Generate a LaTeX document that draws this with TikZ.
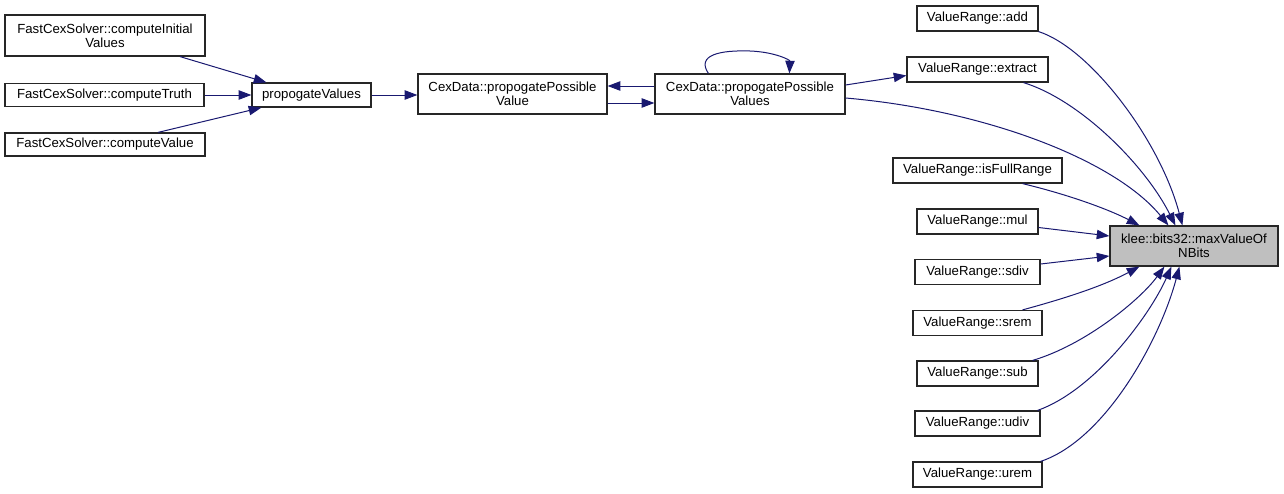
\documentclass[tikz,border=0pt]{standalone}
\usepackage{fontspec}
\setmainfont{Liberation Sans}
\usetikzlibrary{arrows.meta,calc}
\definecolor{edgecol}{HTML}{191970}
\definecolor{hlfill}{HTML}{BFBFBF}
\tikzset{
  fn/.style={draw=black!85, line width=0.9pt, fill=white, inner sep=0pt, align=center,
    font=\fontsize{9.9}{10.5}\selectfont},
  hl/.style={fn, fill=hlfill},
  edge/.style={draw=edgecol, line width=0.75pt, -{Triangle[length=9.5pt,width=7pt]}}
}
\begin{document}
\begin{tikzpicture}[x=0.75pt,y=-0.75pt]
\useasboundingbox (0,0) rectangle (1284,493);
% left nodes
\node[fn, minimum width=150pt, minimum height=30.75pt] (ci) at (105,35.5) {FastCexSolver::computeInitial\\Values};
\node[fn, minimum width=149.25pt, minimum height=17.25pt] (ct) at (104.5,95) {FastCexSolver::computeTruth};
\node[fn, minimum width=150pt, minimum height=17.25pt] (cv) at (105,144.5) {FastCexSolver::computeValue};
\node[fn, minimum width=89.25pt, minimum height=18pt] (pv) at (311.5,95) {propogateValues};
\node[fn, minimum width=141.75pt, minimum height=30pt] (cpv) at (512.5,94) {CexData::propogatePossible\\Value};
\node[fn, minimum width=142.5pt, minimum height=30pt] (cpvs) at (750,94) {CexData::propogatePossible\\Values};
% right column
\node[fn, minimum width=90.75pt, minimum height=18.75pt] (add) at (977.5,18.5) {ValueRange::add};
\node[fn, minimum width=105.75pt, minimum height=18.75pt] (ext) at (977.5,69.5) {ValueRange::extract};
\node[fn, minimum width=126.75pt, minimum height=18.75pt] (full) at (977.5,170.5) {ValueRange::isFullRange};
\node[fn, minimum width=90.75pt, minimum height=18.75pt] (mul) at (977.5,221.5) {ValueRange::mul};
\node[fn, minimum width=93.75pt, minimum height=18.75pt] (sdiv) at (977.5,272) {ValueRange::sdiv};
\node[fn, minimum width=96.75pt, minimum height=18.75pt] (srem) at (977.5,323) {ValueRange::srem};
\node[fn, minimum width=90.75pt, minimum height=18.75pt] (sub) at (977.5,373.5) {ValueRange::sub};
\node[fn, minimum width=93.75pt, minimum height=18.75pt] (udiv) at (977.5,423.5) {ValueRange::udiv};
\node[fn, minimum width=96.75pt, minimum height=18.75pt] (urem) at (977.5,474.5) {ValueRange::urem};
\node[hl, minimum width=126pt, minimum height=30pt] (max) at (1194,246) {klee::bits32::maxValueOf\\NBits};
% edges left
\draw[edge] ($(ci.south)+(75,0)$) -- ($(pv.north west)+(15,0)$);
\draw[edge] (ct.east) -- (pv.west);
\draw[edge] ($(cv.north)+(53,0)$) -- ($(pv.south west)+(10,0)$);
\draw[edge] (pv.east) -- ($(cpv.west)+(0,1)$);
\draw[edge] ($(cpvs.west)+(0,-8)$) -- ($(cpv.east)+(0,-8)$);
\draw[edge] ($(cpv.east)+(0,9)$) -- ($(cpvs.west)+(0,9)$);
\draw[edge] ($(cpvs.north west)+(54,0)$) .. controls (696,55) and (720,50) .. (750,51) .. controls (775,52) and (790,60) .. ($(cpvs.north west)+(135,0)$);
\draw[edge] ($(cpvs.east)+(0,-9)$) -- ($(ext.west)+(0,6)$);
% edges to max
\draw[edge] (add.south east) .. controls (1090,48) and (1160,140) .. ($(max.north west)+(73,0)$);
\draw[edge] ($(ext.south)+(46,0)$) .. controls (1080,100) and (1145,165) .. ($(max.north west)+(66,0)$);
\draw[edge] ($(cpvs.east)+(0,4)$) .. controls (985,110) and (1115,160) .. ($(max.north west)+(59,0)$);
\draw[edge] ($(full.south)+(45,0)$) .. controls (1070,195) and (1110,210) .. ($(max.north west)+(30,0)$);
\draw[edge] ($(mul.east)+(0,6)$) -- ($(max.west)+(0,-10)$);
\draw[edge] ($(sdiv.east)+(0,-8)$) -- ($(max.west)+(0,10)$);
\draw[edge] ($(srem.north)+(45,0)$) .. controls (1070,297) and (1105,285) .. ($(max.south west)+(30,0)$);
\draw[edge] ($(sub.north east)+(-6,0)$) .. controls (1085,345) and (1140,300) .. ($(max.south west)+(55,0)$);
\draw[edge] ($(udiv.north east)+(-3,0)$) .. controls (1095,390) and (1150,315) .. ($(max.south west)+(62,0)$);
\draw[edge] ($(urem.north east)+(-2,0)$) .. controls (1105,440) and (1160,340) .. ($(max.south west)+(70,0)$);
\end{tikzpicture}
\end{document}
